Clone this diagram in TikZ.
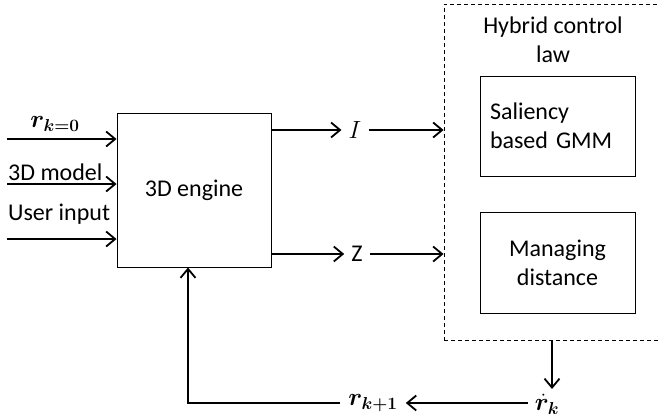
\documentclass[tikz,border=0pt]{standalone}
\usepackage{amsmath}
\usepackage{bm}
\usepackage{fontspec}
\setmainfont{Carlito}
\usetikzlibrary{arrows.meta}
\begin{document}
\begin{tikzpicture}[x=1pt,y=-1pt,
  font=\fontsize{24}{29}\selectfont,
  box/.style={draw, line width=0.9pt, inner sep=0pt},
  arr/.style={line width=1.8pt, -{Straight Barb[length=9pt,width=15pt,line width=1.8pt]}},
  lbl/.style={inner sep=0pt}]
\useasboundingbox (0,0) rectangle (658,418);

% blocks
\node[box, minimum width=154pt, minimum height=154pt] (eng) at (194,190) {3D engine};
\node[box, dashed, dash pattern=on 4pt off 3pt, minimum width=222pt, minimum height=336pt] (ctrl) at (555,172) {};
\node[lbl, align=center] (title) at (553,40) {Hybrid control\\law};
\node[box, minimum width=155pt, minimum height=100pt, text width=135pt, align=left] (sal) at (557.5,126)
  {Saliency\\based GMM};
\node[box, minimum width=155pt, minimum height=101pt, align=center] (man) at (557.5,262.5)
  {Managing\\distance};

% inputs
\coordinate (in1) at (7,139);
\coordinate (in2) at (7,184);
\coordinate (in3) at (7,239);
\draw[arr] (in1) -- (in1 -| eng.west);
\draw[arr] (in2) -- (in2 -| eng.west);
\draw[arr] (in3) -- (in3 -| eng.west);
\node[lbl] (r0) at (55,124) {$\bm{r}_{\bm{k=0}}$};
\node[lbl, anchor=west] (m3d) at (8,172) {3D model};
\node[lbl, anchor=west] (uin) at (8,214) {User input};

% outputs
\node[inner sep=7pt] (I) at (355,130) {$I$};
\node[inner sep=7pt] (Z) at (357,254) {Z};
\draw[arr] (eng.east |- I) -- (I.west);
\draw[arr] (I.east) -- (I -| ctrl.west);
\draw[arr] (eng.east |- Z) -- (Z.west);
\draw[arr] (Z.east) -- (Z -| ctrl.west);

% feedback loop
\node[inner sep=1pt] (rdot) at (547,404) {$\dot{\bm{r}}_{\bm{k}}$};
\node[inner sep=8pt] (rk1) at (373,403) {$\bm{r}_{\bm{k+1}}$};
\coordinate (dtip) at (552,389);
\draw[arr] (ctrl.south -| dtip) -- (dtip);
\draw[arr] ([xshift=-6pt]rdot.west |- rk1) -- (rk1.east);
\draw[arr] (rk1.west) -| ([xshift=-6pt]eng.south);
\end{tikzpicture}
\end{document}
